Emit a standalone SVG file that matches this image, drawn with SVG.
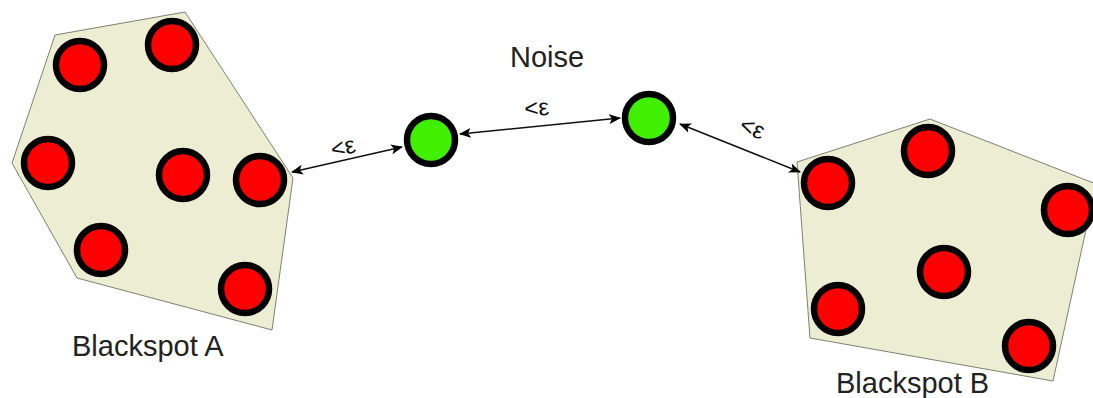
<svg xmlns="http://www.w3.org/2000/svg" width="1093" height="398" viewBox="0 0 1093 398">
<style>
.hull{fill:#ecedd3;stroke:#7f8070;stroke-width:1}
.red{fill:#ff0000;stroke:#000;stroke-width:6.5}
.green{fill:#40f000;stroke:#000;stroke-width:6.5}
.lbl{font-family:"Liberation Sans",Arial,sans-serif;font-size:29px;fill:#222}
.eps{font-family:"Liberation Sans",Arial,sans-serif;font-size:24px;fill:#111}
.conn{stroke:#111;stroke-width:1.5;fill:none;marker-start:url(#ah);marker-end:url(#ah)}
</style>
<defs>
<marker id="ah" viewBox="0 0 12 10" refX="11" refY="5" markerWidth="12" markerHeight="10" markerUnits="userSpaceOnUse" orient="auto-start-reverse">
<path d="M0,0 L12,5 L0,10 L3,5 Z" fill="#000"/>
</marker>
</defs>
<rect width="1093" height="398" fill="#fff"/>
<g id="blackspotA">
<polygon class="hull" points="55,35 185,12 293,178 272,330 77,278 12,163"/>
<circle class="red" cx="80" cy="65" r="24"/>
<circle class="red" cx="172" cy="45" r="24"/>
<circle class="red" cx="48" cy="163" r="24"/>
<circle class="red" cx="183" cy="175" r="24"/>
<circle class="red" cx="260" cy="180" r="24"/>
<circle class="red" cx="101" cy="250" r="24"/>
<circle class="red" cx="245" cy="289" r="24"/>
<text class="lbl" x="72" y="356">Blackspot A</text>
</g>
<g id="blackspotB">
<polygon class="hull" points="797,162 930,119 1096,184 1053,381 810,338"/>
<circle class="red" cx="828" cy="183" r="24"/>
<circle class="red" cx="928" cy="151" r="24"/>
<circle class="red" cx="1068" cy="210" r="24"/>
<circle class="red" cx="944" cy="272" r="24"/>
<circle class="red" cx="838" cy="309" r="24"/>
<circle class="red" cx="1029" cy="346" r="24"/>
<text class="lbl" x="836" y="393">Blackspot B</text>
</g>
<g id="noise1">
<circle class="green" cx="431" cy="140" r="24"/>
</g>
<g id="noise2">
<circle class="green" cx="649" cy="118" r="24"/>
</g>
<g id="noiseLabel">
<text class="lbl" x="510" y="67">Noise</text>
</g>
<g id="connectors">
<line class="conn" x1="292" y1="172" x2="402" y2="147"/>
<line class="conn" x1="460" y1="134" x2="620" y2="118"/>
<line class="conn" x1="680" y1="124" x2="800" y2="172"/>
<text class="eps" transform="translate(333,158) rotate(-14)">&lt;ε</text>
<text class="eps" transform="translate(525,117) rotate(-5)">&lt;ε</text>
<text class="eps" transform="translate(738,131) rotate(21)">&lt;ε</text>
</g>
</svg>
